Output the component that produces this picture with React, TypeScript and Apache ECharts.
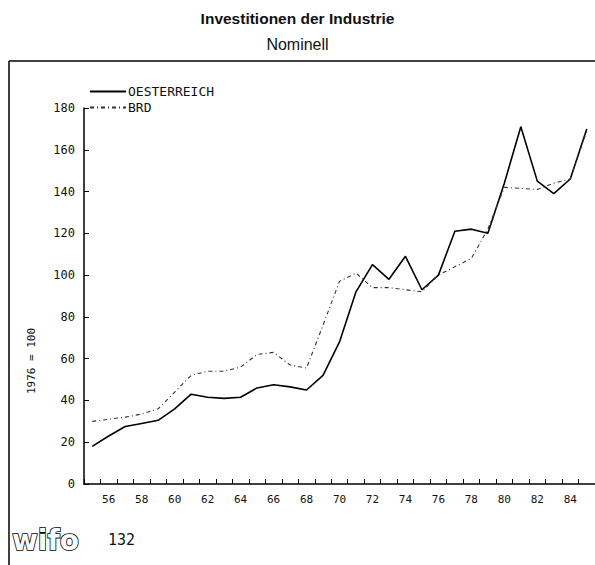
import React, { useEffect, useRef } from "react";
import * as echarts from "echarts";

const years = [
  "55", "56", "57", "58", "59", "60", "61", "62", "63", "64", "65", "66", "67", "68", "69", "70",
  "71", "72", "73", "74", "75", "76", "77", "78", "79", "80", "81", "82", "83", "84", "85",
];
const oesterreich = [
  18, 23, 27.5, 29, 30.5, 36, 43, 41.5, 41, 41.5, 46, 47.5, 46.5, 45, 52, 68,
  92, 105, 98, 109, 93, 100, 121, 122, 120, 144, 171, 145, 139, 146, 170,
];
const brd = [
  30, 31, 32, 33.5, 36, 44, 52, 54, 54, 56, 62, 63, 57, 55.5, 76, 97,
  101, 94, 94, 93, 92, 100, 104, 108, 122, 142, 141.5, 141, 144, 146, 169,
];
const seriesNames = ["OESTERREICH", "BRD"];
const titleText = "Investitionen der Industrie";
const subtitleText = "Nominell";
const yAxisNameText = "1976 = 100";
const pageNumber = "132";

const MONO = '"DejaVu Sans Mono", "Liberation Mono", monospace';

export default function App() {
  const ref = useRef<HTMLDivElement>(null);
  useEffect(() => {
    document.body.style.margin = "0";
    if (!ref.current) return;
    const chart = echarts.init(ref.current, null, { renderer: "svg" });
    chart.setOption({
      animation: false,
      backgroundColor: "#ffffff",
      title: [
        {
          text: titleText,
          left: "center",
          top: 5,
          textStyle: { fontFamily: '"Liberation Sans", Arial, sans-serif', fontWeight: "bold", fontSize: 15.5, color: "#111" },
        },
        {
          text: subtitleText,
          left: "center",
          top: 31,
          textStyle: { fontFamily: '"Liberation Sans", Arial, sans-serif', fontWeight: "normal", fontSize: 16, color: "#111" },
        },
      ],
      legend: {
        orient: "vertical",
        left: 84,
        top: 80,
        itemGap: 3,
        itemWidth: 36,
        itemHeight: 10,
        data: seriesNames,
        itemStyle: { opacity: 0 },
        textStyle: { fontFamily: MONO, fontSize: 13, color: "#111", padding: [0, 0, 0, -3] },
      },
      grid: { left: 84, top: 108, width: 516, height: 376, containLabel: false },
      xAxis: {
        type: "category",
        data: years,
        boundaryGap: true,
        axisLine: { show: true, lineStyle: { color: "#000", width: 1.5 } },
        axisTick: { show: true, inside: true, length: 5, interval: 0, lineStyle: { color: "#000", width: 1 } },
        axisLabel: {
          interval: (idx: number, val: string) => Number(val) % 2 === 0,
          fontFamily: MONO,
          fontSize: 11,
          color: "#111",
          margin: 10,
        },
        splitLine: { show: false },
      },
      yAxis: {
        type: "value",
        min: 0,
        max: 180,
        interval: 20,
        axisLine: { show: true, lineStyle: { color: "#000", width: 1.5 } },
        axisTick: { show: true, inside: true, length: 5, lineStyle: { color: "#000", width: 1 } },
        axisLabel: { fontFamily: MONO, fontSize: 12, color: "#111", margin: 9 },
        splitLine: { show: false },
      },
      series: [
        {
          name: seriesNames[0],
          type: "line",
          data: oesterreich,
          symbol: "none",
          lineStyle: { color: "#000", width: 1.6, type: "solid" },
          itemStyle: { color: "#000" },
        },
        {
          name: seriesNames[1],
          type: "line",
          data: brd,
          symbol: "none",
          lineStyle: { color: "#333", width: 1.1, type: [4, 3, 1, 3] },
          itemStyle: { color: "#333" },
        },
      ],
      graphic: [
        { type: "line", shape: { x1: 9, y1: 61, x2: 595, y2: 61 }, style: { stroke: "#000", lineWidth: 1.5 } },
        { type: "line", shape: { x1: 9, y1: 61, x2: 9, y2: 565 }, style: { stroke: "#000", lineWidth: 1.5 } },
        {
          type: "text",
          x: 31,
          y: 361,
          rotation: Math.PI / 2,
          style: { text: yAxisNameText, font: `11px ${MONO}`, fill: "#111", align: "center", verticalAlign: "middle" },
        },
        {
          type: "text",
          x: 12,
          y: 526,
          style: { text: "wifo", font: 'bold 28px "DejaVu Sans", sans-serif', fill: "#fff", stroke: "#000", lineWidth: 1.6 },
        },
        {
          type: "text",
          x: 108,
          y: 540,
          style: { text: pageNumber, font: `15px ${MONO}`, fill: "#111", verticalAlign: "middle" },
        },
      ],
    });
    return () => chart.dispose();
  }, []);
  return <div ref={ref} style={{ width: 595, height: 565 }} />;
}
